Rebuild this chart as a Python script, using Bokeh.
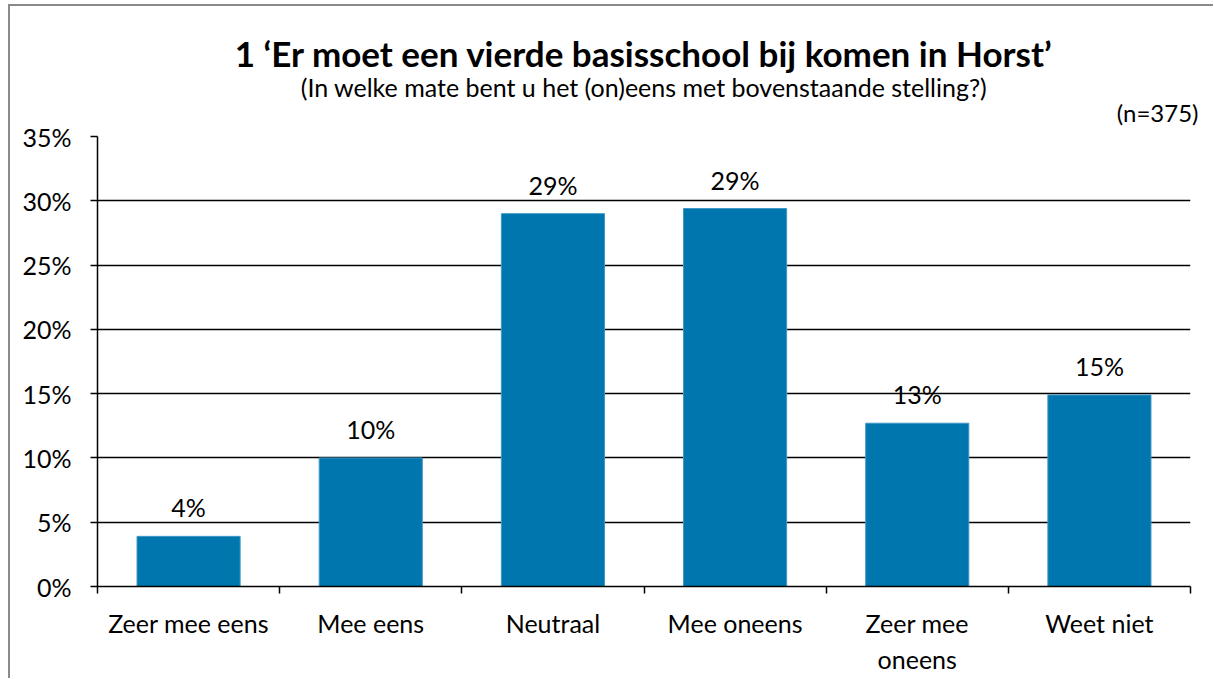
from bokeh.plotting import figure
from bokeh.models import (ColumnDataSource, FixedTicker, PrintfTickFormatter, Range1d,
                          LabelSet, Title)
from bokeh.core.properties import value
from bokeh.embed import file_html
from bokeh.resources import INLINE

# ---- data ----
categories = ["Zeer mee eens", "Mee eens", "Neutraal", "Mee oneens", "Zeer mee\noneens", "Weet niet"]
values = [3.9, 10.0, 29.0, 29.4, 12.7, 14.9]          # percent
y_ticks = [0, 5, 10, 15, 20, 25, 30, 35]
title_text = "1 \u2018Er moet een vierde basisschool bij komen in Horst\u2019"
subtitle_text = "(In welke mate bent u het (on)eens met bovenstaande stelling?)"
n_text = "(n=375)"

FONT = "Lato"
BAR = "#0076AE"

xs = [i + 0.5 for i in range(len(categories))]
labels = [f"{round(v):.0f}%" for v in values]
src = ColumnDataSource(dict(x=xs, top=values, label=labels))

OFF_X, OFF_Y = 9, 5
p = figure(width=1214 - OFF_X, height=679 - OFF_Y, output_backend="svg", toolbar_location=None,
           x_range=Range1d(0, len(categories)), y_range=Range1d(0, y_ticks[-1]),
           min_border_left=87, min_border_right=25, min_border_bottom=94,
           min_border_top=130, title=None)
p.margin = (OFF_Y - 1, 0, 0, OFF_X - 1)
p.styles = {"border-left": "2px solid #8a8a8a", "border-top": "2px solid #8a8a8a"}
p.outline_line_color = None
p.background_fill_color = "white"
p.border_fill_color = "white"

p.vbar(x="x", top="top", width=0.566, source=src, fill_color=BAR, line_color="#3f98c6", line_width=1)

p.add_layout(LabelSet(x="x", y="top", text="label", source=src, text_align="center",
                      text_baseline="bottom", y_offset=14, text_font=value(FONT),
                      text_font_size="25px", text_color="black"))

# y axis
p.yaxis.ticker = FixedTicker(ticks=y_ticks)
p.yaxis.formatter = PrintfTickFormatter(format="%d%%")
p.yaxis.major_tick_in = 0
p.yaxis.major_tick_out = 7
p.yaxis.minor_tick_out = 0
p.yaxis.minor_tick_in = 0
p.yaxis.axis_line_color = "black"
p.yaxis.axis_line_width = 1.5
p.yaxis.major_tick_line_color = "black"
p.yaxis.major_tick_line_width = 1.5
p.yaxis.major_label_text_font = FONT
p.yaxis.major_label_text_font_size = "25px"
p.yaxis.major_label_text_color = "black"
p.yaxis.major_label_standoff = 19

# x axis: labels at centres, ticks at boundaries (minor ticks)
p.xaxis.ticker = FixedTicker(ticks=xs, minor_ticks=list(range(len(categories) + 1)))
p.xaxis.major_label_overrides = {x: c for x, c in zip(xs, categories)}
p.xaxis.major_tick_in = 0
p.xaxis.major_tick_out = 0
p.xaxis.minor_tick_in = 0
p.xaxis.minor_tick_out = 7
p.xaxis.minor_tick_line_color = "black"
p.xaxis.minor_tick_line_width = 1.5
p.xaxis.axis_line_color = "black"
p.xaxis.axis_line_width = 1.5
p.xaxis.major_label_text_font = FONT
p.xaxis.major_label_text_font_size = "25px"
p.xaxis.major_label_text_color = "black"
p.xaxis.major_label_standoff = 14

p.xgrid.grid_line_color = None
p.ygrid.ticker = FixedTicker(ticks=y_ticks[1:])
p.ygrid.grid_line_color = "black"
p.ygrid.grid_line_width = 1.5

# titles (first added = closest to plot)
p.add_layout(Title(text=n_text, align="right", offset=-8, text_font=FONT, text_font_size="24px",
                   text_font_style="normal", text_color="black", standoff=19), "above")
p.add_layout(Title(text=subtitle_text, align="center", vertical_align="bottom", text_font=FONT,
                   text_font_size="25px", text_font_style="normal", text_color="black",
                   standoff=-31), "above")
p.add_layout(Title(text=title_text, align="center", text_font=FONT, text_font_size="35px",
                   text_font_style="bold", text_color="black", standoff=24), "above")

open("out.html", "w").write(file_html(p, INLINE))
